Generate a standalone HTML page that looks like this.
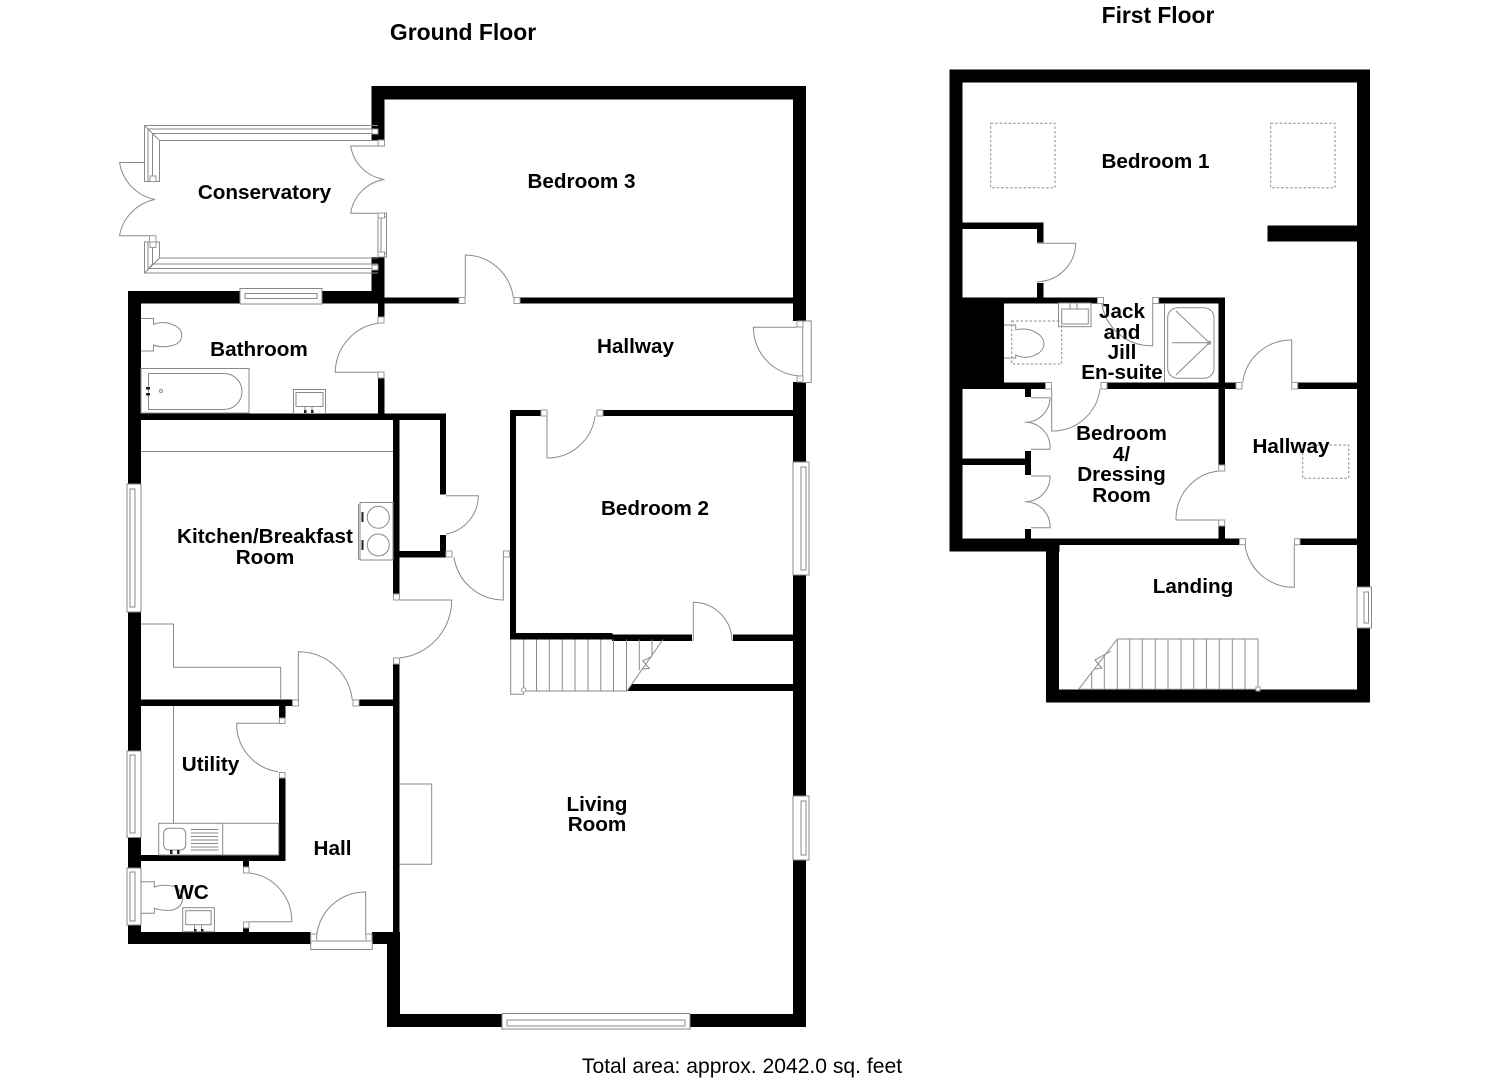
<!DOCTYPE html>
<html lang="en">
<head>
<meta charset="utf-8">
<title>Floor plan</title>
<style>
html,body{margin:0;padding:0;background:#fff;width:1485px;height:1080px;overflow:hidden}
svg{display:block}
.w{fill:#000;stroke:none}
.l{fill:none;stroke:#8a8a8a;stroke-width:1}
.f{fill:#fff;stroke:#8a8a8a;stroke-width:1}
.h{fill:#fff;stroke:#999;stroke-width:1}
.d{fill:none;stroke:#8a8a8a;stroke-width:1;stroke-dasharray:2.5 2}
.k{fill:#222;stroke:none}
text{font-family:"Liberation Sans",sans-serif;font-weight:bold;fill:#000;text-anchor:middle}
.r{font-size:20.7px}
</style>
</head>
<body>
<svg width="1485" height="1080" viewBox="0 0 1485 1080" xmlns="http://www.w3.org/2000/svg">
<rect width="1485" height="1080" fill="#fff"/>

<!-- GROUND FLOOR WALLS -->
<g class="w">
<!-- bedroom 3 -->
<rect x="371.5" y="86" width="434.5" height="13.5"/>
<rect x="371.5" y="86" width="13" height="54"/>
<rect x="378" y="257" width="6.5" height="60"/>
<rect x="371.5" y="257" width="7" height="46"/>
<!-- right wall -->
<rect x="793" y="86" width="13" height="235"/>
<rect x="793" y="382" width="13" height="80"/>
<rect x="793" y="575" width="13" height="221"/>
<rect x="793" y="860" width="13" height="167"/>
<!-- bottom -->
<rect x="387" y="1014" width="115" height="13"/>
<rect x="690" y="1014" width="116" height="13"/>
<rect x="387" y="932" width="13" height="95"/>
<rect x="393" y="664" width="6.5" height="280"/>
<rect x="372" y="932" width="21" height="12"/>
<rect x="128" y="932" width="182.500" height="12"/>
<!-- left wall -->
<rect x="128" y="291" width="13" height="193"/>
<rect x="128" y="612" width="13" height="139"/>
<rect x="128" y="837.500" width="13" height="30.500"/>
<rect x="128" y="925" width="13" height="19"/>
<!-- bathroom top -->
<rect x="128" y="291" width="112" height="12.500"/>
<rect x="322" y="291" width="62" height="12.500"/>
<!-- hallway top -->
<rect x="384" y="297.500" width="75" height="6"/>
<rect x="520" y="297.500" width="273" height="6"/>
<!-- bathroom/kitchen -->
<rect x="141" y="413.500" width="305" height="6.500"/>
<rect x="378" y="378" width="6.500" height="36"/>
<rect x="393" y="413.500" width="6.500" height="181"/>
<rect x="440" y="413.500" width="6" height="81"/>
<rect x="440" y="535" width="6" height="18"/>
<rect x="399" y="551" width="47" height="6.500"/>
<!-- kitchen bottom -->
<rect x="141" y="699.500" width="151.500" height="6.500"/>
<rect x="359" y="699.500" width="34" height="6.500"/>
<rect x="279" y="706" width="6.500" height="12"/>
<rect x="279" y="778" width="6.500" height="83"/>
<rect x="141" y="855" width="144.500" height="6"/>
<rect x="243" y="861" width="6" height="6"/>
<rect x="243" y="928" width="6" height="4"/>
<!-- bedroom 2 -->
<rect x="510" y="410" width="6" height="229.500"/>
<rect x="510" y="410" width="31" height="6"/>
<rect x="603" y="410" width="190" height="6"/>
<rect x="510" y="633" width="102.500" height="6.500"/>
<rect x="612" y="634.500" width="80" height="6.500"/>
<rect x="733" y="634.500" width="60" height="6.500"/>
<polygon points="627,691 632,684 793,684 793,691"/>

<!-- FIRST FLOOR WALLS -->
<rect x="949.500" y="69.500" width="420" height="13"/>
<rect x="949.500" y="69.500" width="13" height="482"/>
<rect x="1357" y="69.500" width="13" height="517"/>
<rect x="1357" y="628" width="13" height="74"/>
<rect x="1046" y="689.500" width="324" height="13"/>
<rect x="1046" y="538.500" width="13" height="164"/>
<rect x="949.500" y="538.500" width="110" height="13"/>
<rect x="1059" y="538.500" width="180" height="6.500"/>
<rect x="1300" y="538.500" width="57" height="6.500"/>
<rect x="1267.500" y="225.500" width="90" height="16"/>
<rect x="962" y="222.500" width="81.500" height="6.500"/>
<rect x="1037" y="222.500" width="6.500" height="20"/>
<rect x="1037" y="283" width="6.500" height="15"/>
<rect x="962" y="297.500" width="135.500" height="6"/>
<rect x="1158.500" y="297.500" width="66.500" height="6"/>
<rect x="1218.500" y="297.500" width="6.500" height="167.500"/>
<rect x="1218.500" y="526" width="6.500" height="13"/>
<rect x="962" y="303" width="42" height="80"/>
<rect x="962" y="382.500" width="83.500" height="6.500"/>
<rect x="1107" y="382.500" width="129" height="6.500"/>
<rect x="1297.500" y="382.500" width="60" height="6.500"/>
<rect x="1025" y="389" width="6" height="8"/>
<rect x="1025" y="451" width="6" height="24"/>
<rect x="962" y="458.500" width="63" height="6.500"/>
<rect x="1025" y="529" width="6" height="10"/>
</g>

<!-- CONSERVATORY WINDOWS -->
<g class="l">
<path d="M378 125.500H144.500V181.500H159.500V140.500H378"/>
<path d="M378 129H148V181.500M152.500 181.500V133.500H378"/>
<path d="M144.500 125.500L159.500 140.500M147.500 128.500L152.500 133.500"/>
<rect class="h" x="372" y="129" width="6" height="5"/>
<rect class="h" x="150" y="176" width="6" height="5.500"/>
<path d="M378 273H144.500V242H159.500V258H378"/>
<path d="M378 268.500H148V242M152.500 242V264H378M144.500 273L159.500 258M147.500 270L152.500 264"/>
<rect class="h" x="372" y="265" width="6" height="5"/>
<rect class="h" x="150" y="242" width="6" height="5.500"/>
<rect class="h" x="149.500" y="235.700" width="6.500" height="6.300"/>
<rect class="h" x="378" y="140" width="6.500" height="6"/>
<!-- conservatory east window -->
<rect x="378" y="213" width="8.500" height="44"/>
<rect x="381" y="217" width="5.500" height="36"/>
<rect class="h" x="378" y="213" width="6.500" height="5"/>
<rect class="h" x="378" y="252" width="6.500" height="5"/>
</g>

<!-- OTHER WINDOWS -->
<g class="l">
<rect class="f" x="240" y="288.500" width="82" height="15.500"/>
<rect x="245" y="293.500" width="72" height="5"/>
<rect class="f" x="127" y="484" width="14" height="128"/>
<rect x="130" y="489" width="5" height="118"/>
<rect class="f" x="127" y="751" width="14" height="86.500"/>
<rect x="130" y="755" width="5" height="78"/>
<rect class="f" x="127" y="868" width="14" height="57"/>
<rect x="130" y="872" width="5" height="49"/>
<rect class="f" x="793" y="462" width="16" height="113"/>
<rect x="801" y="467" width="5" height="103"/>
<rect class="f" x="793" y="796" width="16" height="64"/>
<rect x="801" y="801" width="5" height="54"/>
<rect class="f" x="502" y="1013.500" width="188" height="15.500"/>
<rect x="507" y="1020" width="178" height="6"/>
<rect class="f" x="802.700" y="321" width="8.500" height="61.500"/>
<rect class="f" x="1357" y="587" width="14.500" height="41"/>
<rect x="1364" y="592" width="4.500" height="31"/>
<rect class="f" x="310.700" y="941" width="61.600" height="8.500"/>
</g>

<!-- DOORS GROUND -->
<g class="l">
<path d="M144.500 162.500H119.500A45 45 0 0 0 155 199.500A45 45 0 0 0 119.500 235.700H149.500"/>
<path d="M384.500 146H350.700A40 40 0 0 0 384.500 179.500A40 40 0 0 0 350.700 213.300H378"/>
<path d="M378 372.300H335.300A50 50 0 0 1 378 323.300"/>
<path d="M465.300 297.500V255A49 49 0 0 1 513.300 297.500"/>
<path d="M796.700 327.300H753.300A49 49 0 0 0 801.700 376"/>
<path d="M547 416V458A48 48 0 0 0 595 416"/>
<path d="M446 495.700H478.300A39 39 0 0 1 446 534"/>
<path d="M454 557A50 50 0 0 0 503.300 600V557"/>
<path d="M399.500 600H451.700A58 58 0 0 1 399.500 658"/>
<path d="M298.300 700V651.700A54 54 0 0 1 352.300 700"/>
<path d="M279 723.300H236.700A48 48 0 0 0 278.300 771.700"/>
<path d="M249 873A48 48 0 0 1 291.700 921.700H249"/>
<path d="M365.700 935V892A49 49 0 0 0 316.700 935"/>
<path d="M693.300 641V602.300A39 39 0 0 1 732 641"/>
</g>
<g class="h">
<rect x="459" y="297.500" width="6" height="6"/>
<rect x="514" y="297.500" width="6" height="6"/>
<rect x="378" y="317" width="6" height="6"/>
<rect x="378" y="372" width="6" height="6"/>
<rect x="797" y="321" width="6" height="6"/>
<rect x="797" y="376" width="6" height="6"/>
<rect x="541" y="410" width="6" height="6"/>
<rect x="597" y="410" width="6" height="6"/>
<rect x="446" y="551" width="6" height="6"/>
<rect x="503.500" y="551" width="6" height="6"/>
<rect x="393.500" y="594" width="6" height="6"/>
<rect x="393.500" y="658" width="6" height="6"/>
<rect x="292.500" y="700" width="6" height="6"/>
<rect x="353" y="700" width="6" height="6"/>
<rect x="279.500" y="718" width="5.500" height="5.500"/>
<rect x="279.500" y="772.500" width="5.500" height="5.500"/>
<rect x="243.500" y="867" width="5.500" height="6"/>
<rect x="243.500" y="922" width="5.500" height="6"/>
<rect x="310.700" y="934" width="6" height="7"/>
<rect x="366" y="934" width="6" height="7"/>
</g>

<!-- FIXTURES GROUND -->
<g class="l">
<!-- bathroom -->
<path d="M141 318.500H153.500V324.500C158 322 168 322 172 324.500C185 328 185 343 172 345.500C166 347.500 158 347 153.500 345V351H141"/>
<rect x="141" y="368.500" width="108" height="44.500"/>
<path d="M148.500 373.500H224A18 18 0 0 1 224 409.500H148.500Z"/>
<circle cx="161" cy="391" r="1.500"/>
<rect x="293.500" y="389.500" width="32" height="24"/>
<rect x="296" y="392.500" width="27" height="14"/>
<path d="M305 406V412M312 406V412"/>
<!-- kitchen -->
<path d="M141 451.500H393"/>
<path d="M141 624H173.500V667.300H280.700V700"/>
<rect x="360" y="502.500" width="33" height="57.500"/>
<path d="M358.500 504V559H360"/>
<circle cx="378.300" cy="517.300" r="11"/>
<circle cx="378.300" cy="545" r="11"/>
<!-- utility -->
<path d="M173.500 706V823"/>
<rect x="158.700" y="823.300" width="120" height="31.700"/>
<path d="M222.700 823.300V855"/>
<rect x="163.700" y="828.300" width="22" height="21.700" rx="5"/>
<path d="M190.700 829.500H218.300M190.700 833H218.300M190.700 836.500H218.300M190.700 840H218.300M190.700 843.500H218.300M190.700 847H218.300M190.700 850H218.300"/>
<!-- wc -->
<path d="M141 881.700H154.300V887.300C160 884.500 168 885 175 886.500C185 893 186 905 173 910C167 911 160 910 154.300 908.300V913.300H141"/>
<rect x="182.700" y="907.700" width="31.700" height="24"/>
<rect x="185.700" y="910.700" width="25.400" height="14"/>
<path d="M194.500 925V931M201.500 925V931"/>
<!-- fireplace -->
<path d="M399.500 784H431.700V864.300H399.500"/>
<!-- stairs -->
<path d="M510.700 639.500V694.300H523.500V691H627L663 639.500"/>
<path d="M523.700 639.500V691M536.500 639.500V691M549.300 639.500V691M562.300 639.500V691M575 639.500V691M588 639.500V691M600.800 639.500V691M613.500 639.500V691M626.500 639.500V691M639.300 639.500V670M652 639.500V656"/>
<path d="M652 656.500L642.700 661L649.300 668.300L641.700 669.300"/>
<circle class="h" cx="523.700" cy="690" r="2.200"/>
</g>
<g class="k">
<rect x="146" y="387" width="4" height="2.500"/><rect x="146" y="393" width="4" height="2.500"/>
<rect x="304" y="410" width="2.500" height="3"/><rect x="311" y="410" width="2.500" height="3"/>
<rect x="361.500" y="512" width="2" height="10"/><rect x="361.500" y="540" width="2" height="10"/>
<rect x="170" y="850" width="2.500" height="4"/><rect x="177" y="850" width="2.500" height="4"/>
<rect x="194" y="929" width="2.500" height="2.500"/><rect x="201" y="929" width="2.500" height="2.500"/>
</g>

<!-- DOORS FIRST -->
<g class="l">
<path d="M1037 243.300H1075.700A39 39 0 0 1 1037 281.700"/>
<path d="M1152.700 303V345.700A50 50 0 0 1 1101.700 303"/>
<path d="M1051.700 389V431A48 48 0 0 0 1100 389"/>
<path d="M1031 397.700H1050A25 25 0 0 1 1024.700 422.300A25 25 0 0 1 1050 449.300H1031"/>
<path d="M1031 476H1050A25 25 0 0 1 1024.700 501.700A25 25 0 0 1 1050 527.700H1031"/>
<path d="M1291.700 382V340A49 49 0 0 0 1242.700 382"/>
<path d="M1218.300 520H1176A48 48 0 0 1 1218.300 471"/>
<path d="M1294.300 545V587.300A49 49 0 0 1 1245 545"/>
</g>
<g class="h">
<rect x="1097.500" y="297.500" width="6" height="6"/>
<rect x="1152.700" y="297.500" width="6" height="6"/>
<rect x="1045.500" y="382.500" width="6" height="6.500"/>
<rect x="1101" y="382.500" width="6" height="6.500"/>
<rect x="1236" y="382.500" width="6" height="6.500"/>
<rect x="1291.700" y="382.500" width="6" height="6.500"/>
<rect x="1218.700" y="465" width="6" height="6"/>
<rect x="1218.700" y="520" width="6" height="6"/>
<rect x="1239.500" y="538.700" width="6" height="6"/>
<rect x="1294.500" y="538.700" width="5.500" height="6"/>
</g>

<!-- FIXTURES FIRST -->
<g class="l">
<path d="M1164.500 303V382"/>
<rect x="1167.700" y="307.700" width="46.300" height="70.600" rx="10"/>
<path d="M1176 311L1209.300 342.700L1176 375M1171.700 342.700H1209.300"/>
<circle cx="1209.300" cy="342.700" r="1.500"/>
<rect x="1058.500" y="303" width="32.500" height="23.700"/>
<rect x="1061.700" y="309" width="26.600" height="15"/>
<path d="M1070 303V309M1077 303V309"/>
<path d="M1004 325H1015.700V330C1022 328 1030 329 1035 332C1047 338 1047 350 1035 355C1030 358 1022 358 1015.700 355V358H1004"/>
<path d="M1117.300 639H1258V689M1117.300 639L1078.700 689.300H1258"/>
<path d="M1245 639V689M1232.300 639V689M1219.300 639V689M1206.500 639V689M1193.700 639V689M1181 639V689M1168 639V689M1155.300 639V689M1142.300 639V689M1129.700 639V689M1117.300 639V689M1104.300 656V689M1091.700 672V689"/>
<path d="M1111 651L1095 660L1101.700 668L1095 669"/>
<rect class="h" x="1256" y="687" width="4" height="4"/>
</g>
<g class="d">
<rect x="990.700" y="123.300" width="64.300" height="64.400"/>
<rect x="1270.700" y="123.300" width="64.300" height="64.400"/>
<rect x="1011.700" y="321" width="50" height="43"/>
<rect x="1302.700" y="445" width="46" height="33.300"/>
</g>

<!-- LABELS -->
<text x="463" y="40" font-size="22.900">Ground Floor</text>
<text x="1158" y="23" font-size="22.800">First Floor</text>
<text x="742" y="1073" font-size="21.100" style="font-weight:normal">Total area: approx. 2042.0 sq. feet</text>

<text class="r" x="264.500" y="199">Conservatory</text>
<text class="r" x="581.500" y="188">Bedroom 3</text>
<text class="r" x="259" y="356">Bathroom</text>
<text class="r" x="635.500" y="353">Hallway</text>
<text class="r" x="655" y="515">Bedroom 2</text>
<text class="r" x="265" y="543">Kitchen/Breakfast</text>
<text class="r" x="265" y="564">Room</text>
<text class="r" x="210.500" y="771">Utility</text>
<text class="r" x="332.500" y="855">Hall</text>
<text class="r" x="191.500" y="899">WC</text>
<text class="r" x="597" y="811">Living</text>
<text class="r" x="597" y="831">Room</text>

<text class="r" x="1155.500" y="168">Bedroom 1</text>
<text class="r" x="1122" y="318">Jack</text>
<text class="r" x="1122" y="339">and</text>
<text class="r" x="1122" y="359">Jill</text>
<text class="r" x="1122" y="379">En-suite</text>
<text class="r" x="1121.500" y="440">Bedroom</text>
<text class="r" x="1121.500" y="461">4/</text>
<text class="r" x="1121.500" y="481">Dressing</text>
<text class="r" x="1121.500" y="502">Room</text>
<text class="r" x="1291" y="453">Hallway</text>
<text class="r" x="1193" y="593">Landing</text>
</svg>
</body>
</html>
